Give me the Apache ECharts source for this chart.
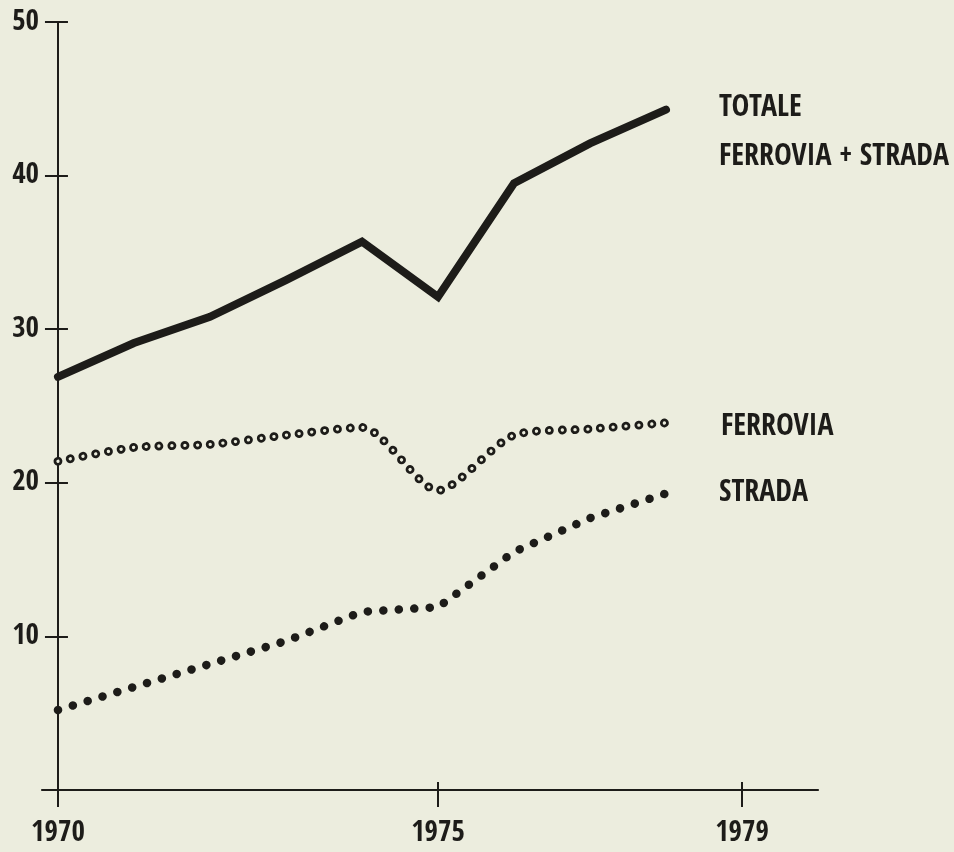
<!DOCTYPE html>
<html>
<head>
<meta charset="utf-8">
<script src="https://cdn.jsdelivr.net/npm/echarts@6/dist/echarts.min.js"></script>
<style>
html,body{margin:0;padding:0;background:#ecedde;}
#chart{width:954px;height:852px;}
</style>
</head>
<body>
<div id="chart"></div>
<script>
// ---- data ----
const years = [1970, 1971, 1972, 1973, 1974, 1975, 1976, 1977, 1978];
const totale = [26.9, 29.1, 30.8, 33.2, 35.7, 32.1, 39.5, 42.1, 44.3];
const ferrovia = [21.4, 22.3, 22.5, 23.1, 23.6, 19.5, 23.1, 23.5, 23.9];
const strada = [5.2, 6.7, 8.2, 9.7, 11.6, 11.9, 15.5, 17.7, 19.3];
const baseYear = 1970;
const xTickYears = [1970, 1975, 1979];
const yTicks = [10, 20, 30, 40, 50];
const labelTotale = 'TOTALE\nFERROVIA + STRADA';
const labelFerrovia = 'FERROVIA';
const labelStrada = 'STRADA';

const BG = '#ecedde';
const INK = '#1d1c19';
const FONT = "'Open Sans Condensed', 'Roboto Condensed', 'DejaVu Sans Condensed', sans-serif";

const pts = arr => arr.map((v, i) => [years[i] - baseYear, v]);
const xTickVals = xTickYears.map(y => y - baseYear);

const chart = echarts.init(document.getElementById('chart'), null, {renderer: 'canvas'});

const xBase = {
  type: 'value', min: -0.21, max: 10, gridIndex: 0,
  splitLine: {show: false}
};
const yBase = {
  type: 'value', min: -0.85, max: 50, gridIndex: 0, position: 'left',
  splitLine: {show: false}
};

chart.setOption({
  backgroundColor: BG,
  animation: false,
  grid: {left: 42, right: 136, top: 22, bottom: 49, containLabel: false, outerBoundsMode: 'none'},
  xAxis: [
    Object.assign({}, xBase, {
      position: 'bottom',
      axisLine: {show: true, onZero: true, onZeroAxisIndex: 0, lineStyle: {color: INK, width: 2.2}},
      axisTick: {show: true, inside: false, length: 17, customValues: xTickVals, lineStyle: {color: INK, width: 2}},
      axisLabel: {show: true, customValues: xTickVals, margin: 16,
        formatter: v => String(v + baseYear),
        color: INK, fontFamily: FONT, fontWeight: 'bold', fontSize: 29}
    }),
    Object.assign({}, xBase, {
      position: 'bottom',
      axisLine: {show: false, onZero: true, onZeroAxisIndex: 0},
      axisTick: {show: true, inside: true, length: 8, customValues: xTickVals, lineStyle: {color: INK, width: 2}},
      axisLabel: {show: false}
    })
  ],
  yAxis: [
    Object.assign({}, yBase, {
      axisLine: {show: true, onZero: true, onZeroAxisIndex: 0, lineStyle: {color: INK, width: 2}},
      axisTick: {show: true, inside: false, length: 13, customValues: yTicks, lineStyle: {color: INK, width: 2}},
      axisLabel: {show: true, customValues: yTicks, margin: 3,
        color: INK, fontFamily: FONT, fontWeight: 'bold', fontSize: 29}
    }),
    Object.assign({}, yBase, {
      axisLine: {show: false, onZero: true, onZeroAxisIndex: 0},
      axisTick: {show: true, inside: true, length: 10, customValues: yTicks, lineStyle: {color: INK, width: 2}},
      axisLabel: {show: false}
    })
  ],
  series: [
    {
      name: 'Strada', type: 'line', xAxisIndex: 0, yAxisIndex: 0,
      data: pts(strada), showSymbol: false, silent: true,
      lineStyle: {color: INK, width: 8.5, type: [0.1, 15.4], cap: 'round', join: 'round'},
      endLabel: {show: true, formatter: labelStrada, distance: 53, offset: [0, 0],
        color: INK, fontFamily: FONT, fontWeight: 'bold', fontSize: 30}
    },
    {
      name: 'Ferrovia', type: 'line', xAxisIndex: 0, yAxisIndex: 0,
      data: pts(ferrovia), showSymbol: false, silent: true, smooth: 0.25,
      lineStyle: {color: INK, width: 8.8, type: [0.1, 12.7], cap: 'round', join: 'round'},
      endLabel: {show: true, formatter: labelFerrovia, distance: 55, offset: [0, 4],
        color: INK, fontFamily: FONT, fontWeight: 'bold', fontSize: 30}
    },
    {
      name: 'Ferrovia-hole', type: 'line', xAxisIndex: 0, yAxisIndex: 0,
      data: pts(ferrovia), showSymbol: false, silent: true, smooth: 0.25,
      lineStyle: {color: BG, width: 3.3, type: [0.1, 12.7], cap: 'round', join: 'round'}
    },
    {
      name: 'Totale', type: 'line', xAxisIndex: 0, yAxisIndex: 0,
      data: pts(totale), showSymbol: false, silent: true,
      lineStyle: {color: INK, width: 8, cap: 'round', join: 'miter'},
      endLabel: {show: true, formatter: labelTotale, distance: 53, offset: [0, 23],
        lineHeight: 49, align: 'left',
        color: INK, fontFamily: FONT, fontWeight: 'bold', fontSize: 30}
    }
  ]
});
</script>
</body>
</html>
